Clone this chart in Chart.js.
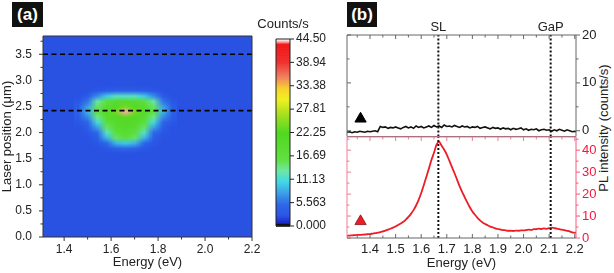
<!DOCTYPE html>
<html>
<head>
<meta charset="utf-8">
<script src="https://cdn.jsdelivr.net/npm/chart.js@4.4.1/dist/chart.umd.min.js"></script>
<style>
body { margin:0; width:614px; height:273px; background:#fff; position:relative; overflow:hidden; font-family:"Liberation Sans", Arial, sans-serif; }
canvas { position:absolute; }
.tag { position:absolute; background:#111; color:#fff; font-weight:bold; font-size:17px; line-height:25px; text-align:center; }
#ylab { position:absolute; left:603px; top:128px; transform:translate(-50%,-50%) rotate(-90deg); font-size:13px; white-space:nowrap; color:#222; }
</style>
</head>
<body>
<div class="tag" style="left:12px;top:2px;width:31px;height:25px;">(a)</div>
<div class="tag" style="left:347px;top:2px;width:30px;height:25px;">(b)</div>
<div id="ylab">PL intensity (counts/s)</div>
<canvas id="heat" width="270" height="273" style="left:0;top:0"></canvas>
<canvas id="cbar" width="90" height="273" style="left:250px;top:0"></canvas>
<canvas id="plTop" width="294" height="137" style="left:320px;top:0"></canvas>
<canvas id="plBot" width="294" height="137" style="left:320px;top:136px"></canvas>
<script>
// ---- data ----
// (a) PL map: counts/s on a coarse grid around the bright spot, rest is background
const heatEnergies = [1.46, 1.50, 1.54, 1.58, 1.62, 1.66, 1.70, 1.74, 1.78, 1.82, 1.86];
const heatPositions = [2.9, 2.8, 2.7, 2.6, 2.5, 2.4, 2.3, 2.2, 2.1, 2.0, 1.9, 1.8, 1.7, 1.6];
const heatBackground = 2.5;
const heatCounts = [
  [2.5, 2.5, 2.5, 2.5, 2.5, 2.5, 2.5, 2.5, 2.5, 2.5, 2.5],
  [2.5, 2.5, 3.0, 3.5, 4.0, 4.0, 4.0, 3.5, 3.0, 2.5, 2.5],
  [2.5, 3.5, 7.0, 10, 12, 12, 12, 10, 7.0, 3.5, 2.5],
  [3.0, 6.0, 13, 17, 19, 20, 19, 17, 13, 6.0, 3.0],
  [3.5, 8.0, 15, 19, 21, 24, 21, 19, 15, 8.0, 3.5],
  [4.0, 9.0, 16, 20, 24, 44, 24, 20, 16, 9.0, 4.0],
  [3.5, 7.0, 14, 19, 21, 23, 21, 19, 14, 7.0, 3.5],
  [3.0, 5.0, 11, 17, 20, 21, 20, 17, 11, 5.0, 3.0],
  [2.5, 3.5, 8.0, 15, 19, 20, 19, 15, 8.0, 3.5, 2.5],
  [2.5, 3.0, 5.0, 12, 17, 19, 17, 12, 5.0, 3.0, 2.5],
  [2.5, 2.5, 4.0, 9.0, 15, 17, 15, 9.0, 4.0, 2.5, 2.5],
  [2.5, 2.5, 3.0, 5.0, 9.0, 10, 9.0, 5.0, 3.0, 2.5, 2.5],
  [2.5, 2.5, 2.5, 3.0, 4.5, 5.0, 4.5, 3.0, 2.5, 2.5, 2.5],
  [2.5, 2.5, 2.5, 2.5, 2.5, 2.5, 2.5, 2.5, 2.5, 2.5, 2.5]
];
const cutPositions = [3.5, 2.42];
const heatXTicks = [1.4, 1.6, 1.8, 2.0, 2.2];
const heatXMinor = [1.5, 1.7, 1.9, 2.1];
const heatYTicks = [0, 0.5, 1.0, 1.5, 2.0, 2.5, 3.0, 3.5];
const heatYMinor = [0.25, 0.75, 1.25, 1.75, 2.25, 2.75, 3.25, 3.75];
const cbTicks = [0, 5.563, 11.13, 16.69, 22.25, 27.81, 33.38, 38.94, 44.5];
const cbTickLabels = ['0.000', '5.563', '11.13', '16.69', '22.25', '27.81', '33.38', '38.94', '44.50'];

// (b) PL spectra at the two laser positions
const plEnergies = [
  1.31, 1.32, 1.33, 1.34, 1.35, 1.36, 1.37, 1.38, 1.39, 1.40,
  1.41, 1.42, 1.43, 1.44, 1.45, 1.46, 1.47, 1.48, 1.49, 1.50,
  1.51, 1.52, 1.53, 1.54, 1.55, 1.56, 1.57, 1.58, 1.59, 1.60,
  1.61, 1.62, 1.63, 1.64, 1.65, 1.66, 1.67, 1.68, 1.69, 1.70,
  1.71, 1.72, 1.73, 1.74, 1.75, 1.76, 1.77, 1.78, 1.79, 1.80,
  1.81, 1.82, 1.83, 1.84, 1.85, 1.86, 1.87, 1.88, 1.89, 1.90,
  1.91, 1.92, 1.93, 1.94, 1.95, 1.96, 1.97, 1.98, 1.99, 2.00,
  2.01, 2.02, 2.03, 2.04, 2.05, 2.06, 2.07, 2.08, 2.09, 2.10,
  2.11, 2.12, 2.13, 2.14, 2.15, 2.16, 2.17, 2.18, 2.19, 2.20,
  2.21
];
const plAt35 = [
  -0.3, -0.2, -0.4, -0.2, -0.3, -0.1, -0.2, -0.3, -0.1, -0.2,
  -0.1, 0.0, -0.2, 0.9, 0.7, 0.8, 0.5, 0.7, 0.6, 0.8,
  0.6, 0.4, 0.7, 0.9, 0.6, 0.8, 0.5, 1.0, 0.7, 0.9,
  0.6, 0.8, 1.0, 0.7, 1.1, 0.8, 1.0, 0.7, 1.2, 0.9,
  1.0, 0.8, 1.1, 0.9, 0.7, 1.0, 0.8, 0.9, 0.6, 0.8,
  0.7, 0.9, 0.5, 0.7, 0.8, 0.6, 0.4, 0.7, 0.5, 0.6,
  0.3, 0.6, 0.4, 0.5, 0.2, 0.5, 0.3, 0.4, 0.6, 0.2,
  0.4, 0.1, 0.3, 0.2, 0.4, 0.0, 0.2, 0.3, 0.1, 0.2,
  -0.1, 0.2, 0.0, 0.3, 0.1, -0.1, 0.2, 0.0, -0.2, -0.1,
  -0.3
];
const plAt24 = [
  1.0, 1.1, 1.2, 1.3, 1.4, 1.4, 1.5, 1.6, 1.7, 1.8,
  2.0, 2.2, 2.4, 2.7, 3.0, 3.4, 3.8, 4.2, 4.7, 5.3,
  5.9, 6.6, 7.4, 8.4, 9.6, 11.0, 12.7, 14.8, 17.4, 20.5,
  24.0, 27.8, 31.6, 35.5, 38.8, 42.5, 43.8, 42.0, 40.2, 38.0,
  35.2, 32.4, 29.6, 26.6, 23.6, 21.0, 18.6, 16.2, 14.0, 12.1,
  10.6, 9.2, 8.0, 7.1, 6.4, 5.8, 5.2, 4.8, 4.4, 4.1,
  3.8, 3.6, 3.5, 3.3, 3.3, 3.2, 3.4, 3.3, 3.5, 3.5,
  3.6, 3.8, 3.7, 4.0, 4.0, 4.3, 4.1, 4.4, 4.2, 4.5,
  4.7, 4.5, 4.3, 4.0, 3.8, 3.6, 3.3, 3.0, 2.6, 2.4,
  2.2
];
const markerTop = { x: 1.363, y: 2.5 };
const markerBot = { x: 1.363, y: 7.6 };
const refLines = [1.667, 2.106];
const refLabels = ['SL', 'GaP'];
const plXTicks = [1.4, 1.5, 1.6, 1.7, 1.8, 1.9, 2.0, 2.1, 2.2];
const plXMinor = [1.35, 1.45, 1.55, 1.65, 1.75, 1.85, 1.95, 2.05, 2.15];
const topYTicks = [0, 10, 20];
const topYMinor = [5, 15];
const botYTicks = [0, 10, 20, 30, 40];
const botYMinor = [5, 15, 25, 35, 45];

Chart.defaults.font.family = '"Liberation Sans", Arial, sans-serif';
Chart.defaults.font.size = 12;
Chart.defaults.color = '#222';
Chart.defaults.layout.autoPadding = false;

// colour map like the one in the figure
const cmap = [
  [0.0, [16, 16, 16]], [0.014, [16, 16, 16]], [0.016, [26, 36, 200]], [0.06, [42, 86, 230]],
  [0.12, [46, 104, 232]], [0.18, [60, 160, 232]], [0.24, [64, 216, 232]], [0.30, [110, 232, 160]],
  [0.36, [96, 224, 64]], [0.5, [80, 216, 32]], [0.6, [168, 224, 32]], [0.68, [240, 240, 32]],
  [0.74, [248, 208, 48]], [0.8, [240, 128, 96]], [0.88, [240, 48, 48]], [0.975, [240, 24, 24]],
  [0.985, [255, 140, 140]], [1.0, [255, 255, 255]]
];
function countColor(v) {
  const f = Math.max(0, Math.min(1, v / 44.5));
  for (let i = 1; i < cmap.length; i++) {
    if (f <= cmap[i][0]) {
      const [f0, c0] = cmap[i - 1], [f1, c1] = cmap[i];
      const t = f1 > f0 ? (f - f0) / (f1 - f0) : 0;
      const c = c0.map((a, k) => Math.round(a + (c1[k] - a) * t));
      return 'rgb(' + c.join(',') + ')';
    }
  }
  return 'rgb(255,255,255)';
}

// frame + tick marks drawn from the chart's scales
function framePlugin(sides) {
  return {
    id: 'frame',
    afterDatasetsDraw(chart) {
      const ctx = chart.ctx, a = chart.chartArea;
      sides.forEach(s => {
        const sc = chart.scales[s.scale];
        ctx.save();
        ctx.strokeStyle = s.color;
        ctx.lineWidth = 1;
        ctx.beginPath();
        if (s.side === 'left') { ctx.moveTo(a.left, a.top); ctx.lineTo(a.left, a.bottom); }
        if (s.side === 'right') { ctx.moveTo(a.right, a.top); ctx.lineTo(a.right, a.bottom); }
        if (s.side === 'top') { ctx.moveTo(a.left, a.top); ctx.lineTo(a.right, a.top); }
        if (s.side === 'bottom') { ctx.moveTo(a.left, a.bottom); ctx.lineTo(a.right, a.bottom); }
        const lists = [[s.major || [], 4], [s.minor || [], 2.5]];
        lists.forEach(([vals, len]) => vals.forEach(v => {
          const p = sc.getPixelForValue(v);
          if (s.side === 'left') { const d = s.inward ? len : -len; ctx.moveTo(a.left, p); ctx.lineTo(a.left + d, p); }
          if (s.side === 'right') { const d = s.inward ? -len : len; ctx.moveTo(a.right, p); ctx.lineTo(a.right + d, p); }
          if (s.side === 'top') { const d = s.inward ? len : -len; ctx.moveTo(p, a.top); ctx.lineTo(p, a.top + d); }
          if (s.side === 'bottom') { const d = s.inward ? -len : len; ctx.moveTo(p, a.bottom); ctx.lineTo(p, a.bottom + d); }
        }));
        ctx.stroke();
        ctx.restore();
      });
    }
  };
}

function fixedTicks(list) {
  return axis => { axis.ticks = list.map(v => ({ value: v })); };
}
// force an axis box size and drop the label overhang padding so the plot area lands where it should
function fitTo(w, h) {
  return s => {
    if (w != null) s.width = w;
    if (h != null) s.height = h;
    s.paddingTop = 0; s.paddingBottom = 0; s.paddingLeft = 0; s.paddingRight = 0;
  };
}

// ---- (a) heat map ----
const heatPlugin = {
  id: 'heatmap',
  beforeDatasetsDraw(chart) {
    const { ctx, chartArea: a } = chart;
    const x = chart.scales.x, y = chart.scales.y;
    ctx.save();
    ctx.fillStyle = countColor(heatBackground);
    ctx.fillRect(a.left, a.top, a.right - a.left, a.bottom - a.top);
    const off = document.createElement('canvas');
    off.width = heatEnergies.length;
    off.height = heatPositions.length;
    const octx = off.getContext('2d');
    heatCounts.forEach((row, r) => row.forEach((v, c) => {
      octx.fillStyle = countColor(v);
      octx.fillRect(c, r, 1, 1);
    }));
    const dE = heatEnergies[1] - heatEnergies[0];
    const dP = heatPositions[0] - heatPositions[1];
    const x0 = x.getPixelForValue(heatEnergies[0] - dE / 2);
    const x1 = x.getPixelForValue(heatEnergies[heatEnergies.length - 1] + dE / 2);
    const y0 = y.getPixelForValue(heatPositions[0] + dP / 2);
    const y1 = y.getPixelForValue(heatPositions[heatPositions.length - 1] - dP / 2);
    ctx.imageSmoothingEnabled = true;
    ctx.imageSmoothingQuality = 'low';
    ctx.drawImage(off, x0, y0, x1 - x0, y1 - y0);
    ctx.restore();
  }
};

const heatChart = new Chart(document.getElementById('heat'), {
  type: 'scatter',
  data: {
    datasets: cutPositions.map(p => ({
      type: 'line', data: [{ x: 1.31, y: p }, { x: 2.2, y: p }],
      borderColor: '#000', borderWidth: 1.6, borderDash: [5, 3.5], pointRadius: 0
    })).concat([{
      data: [{ x: 2.235, y: cutPositions[0] }, { x: 2.235, y: cutPositions[1] }],
      pointStyle: 'triangle', pointRadius: 6.5,
      backgroundColor: ['#000', '#ee1c25'], borderColor: ['#000', '#7a0a0a'], borderWidth: 0.8,
      clip: false
    }])
  },
  options: {
    responsive: false, animation: false, devicePixelRatio: 1,
    layout: { padding: { top: 36, right: 18, left: 0, bottom: 0 } },
    plugins: { legend: { display: false }, tooltip: { enabled: false } },
    scales: {
      x: {
        type: 'linear', min: 1.31, max: 2.2,
        afterBuildTicks: fixedTicks(heatXTicks),
        afterFit: fitTo(null, 36),
        grid: { display: false, drawTicks: false }, border: { display: false },
        ticks: { padding: 5, maxRotation: 0, autoSkip: false, callback: v => v.toFixed(1) },
        title: { display: true, text: 'Energy (eV)', font: { size: 13 }, padding: { top: 0, bottom: 3 } }
      },
      y: {
        type: 'linear', min: 0, max: 3.85,
        afterBuildTicks: fixedTicks(heatYTicks),
        afterFit: fitTo(43, null),
        grid: { display: false, drawTicks: false }, border: { display: false },
        ticks: { padding: 11, autoSkip: false, callback: v => v.toFixed(1) },
        title: { display: true, text: 'Laser position (μm)', font: { size: 13 }, padding: { top: 0, bottom: 0 } }
      }
    }
  },
  plugins: [heatPlugin, framePlugin([
    { side: 'left', scale: 'y', color: '#333', major: heatYTicks, minor: heatYMinor },
    { side: 'bottom', scale: 'x', color: '#333', major: heatXTicks, minor: heatXMinor },
    { side: 'top', scale: 'x', color: '#333' },
    { side: 'right', scale: 'y', color: '#333' }
  ])]
});

// ---- colour bar ----
const cbarPlugin = {
  id: 'cbar',
  beforeDatasetsDraw(chart) {
    const { ctx, chartArea: a } = chart;
    const y = chart.scales.y;
    ctx.save();
    for (let v = 0; v < 44.5; v += 0.1) {
      const top = y.getPixelForValue(Math.min(44.5, v + 0.1));
      const bot = y.getPixelForValue(v);
      ctx.fillStyle = countColor(v + 0.05);
      ctx.fillRect(a.left, top, a.right - a.left, bot - top + 0.6);
    }
    ctx.fillStyle = '#222';
    ctx.font = '13px "Liberation Sans", Arial, sans-serif';
    ctx.textAlign = 'center';
    ctx.textBaseline = 'middle';
    ctx.fillText('Counts/s', 33, 24);
    ctx.restore();
  }
};

const cbarChart = new Chart(document.getElementById('cbar'), {
  type: 'scatter',
  data: { datasets: [] },
  options: {
    responsive: false, animation: false, devicePixelRatio: 1,
    layout: { padding: { top: 39, left: 26, right: 0, bottom: 47 } },
    plugins: { legend: { display: false }, tooltip: { enabled: false } },
    scales: {
      x: { type: 'linear', display: false, min: 0, max: 1 },
      y: {
        type: 'linear', position: 'right', min: 0, max: 44.5,
        afterBuildTicks: fixedTicks(cbTicks),
        afterFit: fitTo(50, null),
        grid: { display: false, drawTicks: false }, border: { display: false },
        ticks: { padding: 6, autoSkip: false, callback: (v, i) => cbTickLabels[i] }
      }
    }
  },
  plugins: [cbarPlugin, framePlugin([
    { side: 'left', scale: 'y', color: '#222' },
    { side: 'right', scale: 'y', color: '#222', major: cbTicks },
    { side: 'top', scale: 'x', color: '#222' },
    { side: 'bottom', scale: 'x', color: '#222' }
  ])]
});

// ---- (b) spectra ----
function refLineSets(lo, hi) {
  return refLines.map(e => ({
    type: 'line', data: [{ x: e, y: lo }, { x: e, y: hi }],
    borderColor: '#111', borderWidth: 2, borderDash: [2, 2], pointRadius: 0
  }));
}

const refTextPlugin = {
  id: 'refText',
  afterDraw(chart) {
    const ctx = chart.ctx, x = chart.scales.x;
    ctx.save();
    ctx.fillStyle = '#222';
    ctx.font = '13px "Liberation Sans", Arial, sans-serif';
    ctx.textAlign = 'center';
    ctx.textBaseline = 'middle';
    refLines.forEach((e, i) => ctx.fillText(refLabels[i], x.getPixelForValue(e), 27));
    ctx.restore();
  }
};

const topChart = new Chart(document.getElementById('plTop'), {
  type: 'scatter',
  data: {
    datasets: refLineSets(-1.2, 20).concat([
      {
        type: 'line', data: plEnergies.map((e, i) => ({ x: e, y: plAt35[i] })),
        borderColor: '#111', borderWidth: 1.6, pointRadius: 0, tension: 0
      },
      {
        data: [markerTop], pointStyle: 'triangle', pointRadius: 6.5,
        backgroundColor: '#000', borderColor: '#000'
      }
    ])
  },
  options: {
    responsive: false, animation: false, devicePixelRatio: 1,
    layout: { padding: { top: 35, left: 27, right: 0, bottom: 0.5 } },
    plugins: { legend: { display: false }, tooltip: { enabled: false } },
    scales: {
      x: { type: 'linear', display: false, min: 1.31, max: 2.205, afterFit: fitTo(null, 0) },
      y: {
        type: 'linear', position: 'right', min: -1.2, max: 20,
        afterBuildTicks: fixedTicks(topYTicks),
        afterFit: fitTo(38, null),
        grid: { display: false, drawTicks: false }, border: { display: false },
        ticks: { padding: 6, autoSkip: false, font: { size: 13 } }
      }
    }
  },
  plugins: [refTextPlugin, framePlugin([
    { side: 'left', scale: 'y', color: '#666', major: topYTicks, minor: topYMinor, inward: true },
    { side: 'right', scale: 'y', color: '#666', major: topYTicks, minor: topYMinor },
    { side: 'top', scale: 'x', color: '#666', major: plXTicks, minor: plXMinor, inward: true },
    { side: 'bottom', scale: 'x', color: '#666' }
  ])]
});

const botChart = new Chart(document.getElementById('plBot'), {
  type: 'scatter',
  data: {
    datasets: refLineSets(0, 46).concat([
      {
        type: 'line', data: plEnergies.map((e, i) => ({ x: e, y: plAt24[i] })),
        borderColor: '#ee1c25', borderWidth: 1.8, pointRadius: 0, tension: 0.3
      },
      {
        data: [markerBot], pointStyle: 'triangle', pointRadius: 6.5,
        backgroundColor: '#ee1c25', borderColor: '#8a1010', borderWidth: 0.8
      }
    ])
  },
  options: {
    responsive: false, animation: false, devicePixelRatio: 1,
    layout: { padding: { top: 1, left: 27, right: 0, bottom: 0 } },
    plugins: { legend: { display: false }, tooltip: { enabled: false } },
    scales: {
      x: {
        type: 'linear', min: 1.31, max: 2.205,
        afterBuildTicks: fixedTicks(plXTicks),
        afterFit: fitTo(null, 35),
        grid: { display: false, drawTicks: false }, border: { display: false },
        ticks: { padding: 4, maxRotation: 0, autoSkip: false, font: { size: 13 }, callback: v => v.toFixed(1) },
        title: { display: true, text: 'Energy (eV)', font: { size: 13 }, padding: { top: 0, bottom: 2 } }
      },
      y: {
        type: 'linear', position: 'right', min: 0, max: 46,
        afterBuildTicks: fixedTicks(botYTicks),
        afterFit: fitTo(38, null),
        grid: { display: false, drawTicks: false }, border: { display: false },
        ticks: { padding: 6, autoSkip: false, color: '#f5163c', font: { size: 13 } }
      }
    }
  },
  plugins: [framePlugin([
    { side: 'left', scale: 'y', color: '#f27a96', major: botYTicks, minor: botYMinor, inward: true },
    { side: 'right', scale: 'y', color: '#f25a7a', major: botYTicks, minor: botYMinor },
    { side: 'top', scale: 'x', color: '#f27a96', major: plXTicks, minor: plXMinor, inward: true },
    { side: 'bottom', scale: 'x', color: '#666', major: plXTicks, minor: plXMinor, inward: true }
  ])]
});
</script>
</body>
</html>
